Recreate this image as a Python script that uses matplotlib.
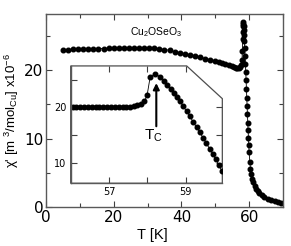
import matplotlib
matplotlib.use("Agg")
import matplotlib.pyplot as plt
from matplotlib.patches import Polygon
from matplotlib.ticker import MultipleLocator, FixedLocator, NullFormatter

plt.rcParams['font.family'] = ['Liberation Sans', 'DejaVu Sans']
plt.rcParams['mathtext.default'] = 'regular'

# main curve: chi' vs T (K), units 1e-6 m^3/mol_Cu
temp_main = [5.0, 6.5, 8.0, 9.5, 11.0, 12.5, 14.0, 15.5, 17.0, 18.5, 20.0, 21.5,
             23.0, 24.5, 26.0, 27.5, 29.0, 30.5, 32.0, 33.5, 35.0, 36.5, 38.0,
             39.5, 41.0, 42.5, 44.0, 45.5, 47.0, 48.5, 50.0, 51.0, 52.0, 53.0,
             54.0, 54.8, 55.5, 56.0, 56.5, 57.0, 57.4, 57.7, 57.9, 58.0, 58.1,
             58.15, 58.2, 58.25, 58.3, 58.35, 58.4, 58.5, 58.6, 58.7, 58.8,
             58.9, 59.0, 59.1, 59.2, 59.3, 59.4, 59.5, 59.6, 59.7, 59.8, 59.9,
             60.0, 60.2, 60.4, 60.6, 60.9, 61.2, 61.6, 62.0, 62.5, 63.0, 63.7,
             64.5, 65.5, 66.5, 67.5, 68.5, 69.5]
chi_main = [23.0, 23.0, 23.05, 23.05, 23.1, 23.1, 23.1, 23.15, 23.15, 23.2, 23.2,
            23.2, 23.2, 23.25, 23.25, 23.25, 23.25, 23.2, 23.2, 23.1, 23.0, 22.9,
            22.7, 22.5, 22.35, 22.2, 22.05, 21.9, 21.7, 21.5, 21.3, 21.15, 21.0,
            20.85, 20.7, 20.55, 20.45, 20.35, 20.3, 20.3, 20.4, 20.7, 21.5, 22.8,
            24.5, 25.6, 26.5, 27.0, 26.8, 26.4, 25.9, 25.2, 24.2, 23.2, 22.0,
            20.9, 19.8, 18.6, 17.3, 16.0, 14.8, 13.6, 12.3, 11.2, 10.1, 9.0, 8.0,
            6.6, 5.6, 4.8, 4.1, 3.6, 3.1, 2.7, 2.3, 2.0, 1.7, 1.45, 1.2, 1.0,
            0.85, 0.7, 0.6]

# inset: zoom around T_C
temp_inset = [56.05, 56.15, 56.25, 56.35, 56.45, 56.55, 56.65, 56.75, 56.85,
              56.95, 57.05, 57.15, 57.25, 57.35, 57.45, 57.55, 57.65, 57.73,
              57.82, 57.92, 57.99, 58.07, 58.2, 58.33, 58.43, 58.52, 58.6,
              58.68, 58.76, 58.85, 58.93, 59.02, 59.1, 59.19, 59.28, 59.36,
              59.45, 59.53, 59.62, 59.7, 59.78, 59.86, 59.93]
chi_inset = [20.0, 20.0, 20.0, 20.0, 20.0, 20.0, 20.0, 20.0, 20.0, 20.0, 20.0,
             20.0, 20.05, 20.05, 20.1, 20.15, 20.25, 20.4, 20.7, 21.1, 22.2,
             25.5, 26.1, 25.5, 24.8, 24.1, 23.4, 22.6, 21.8, 21.1, 20.2, 19.3,
             18.4, 17.4, 16.4, 15.5, 14.5, 13.6, 12.5, 11.6, 10.6, 9.6, 8.6]

tick_font = 'DejaVu Sans'

fig = plt.figure(figsize=(2.91, 2.46), dpi=100)
ax = fig.add_axes([0.158, 0.1585, 0.8145, 0.7845])

ax.plot(temp_main, chi_main, '-o', color='black', lw=0.6, ms=3.3)
ax.set_xlim(0, 70)
ax.set_ylim(0, 28.2)
ax.xaxis.set_major_locator(MultipleLocator(20))
ax.xaxis.set_minor_locator(MultipleLocator(10))
ax.yaxis.set_major_locator(MultipleLocator(10))
ax.yaxis.set_minor_locator(MultipleLocator(5))
ax.tick_params(which='both', direction='in', top=True, right=True,
               labelsize=11, color='0.25', width=0.8)
ax.tick_params(which='major', length=4, pad=2)
ax.tick_params(which='minor', length=3)
for lbl in ax.get_xticklabels() + ax.get_yticklabels():
    lbl.set_family(tick_font)
for sp in ax.spines.values():
    sp.set_color('0.35')
    sp.set_linewidth(1.0)

ax.set_xlabel('T [K]', fontsize=10.5)
ax.xaxis.set_label_coords(0.45, -0.11)
ax.set_ylabel("$\\chi$' [m$^{\\ 3}$/mol$_{Cu}$] x10$^{-6}$", fontsize=9.5, labelpad=2)
ax.text(32.4, 25.5, 'Cu$_2$OSeO$_3$', fontsize=7.5, ha='center', va='center')

# inset with cut corner frame
ax_in = fig.add_axes([0.243, 0.255, 0.521, 0.477])
ax_in.set_xlim(56.0, 59.95)
ax_in.set_ylim(6.3, 27.5)
ax_in.patch.set_visible(False)
ax_in.spines['top'].set_visible(False)
ax_in.spines['right'].set_visible(False)
for side in ['left', 'bottom']:
    ax_in.spines[side].set_color('0.35')
    ax_in.spines[side].set_linewidth(1.0)
frame = Polygon([(0, 0), (0, 1), (0.765, 1), (1, 0.721), (1, 0)], closed=True,
                transform=ax_in.transAxes, facecolor='white', edgecolor='0.3',
                lw=0.9, zorder=0, clip_on=False)
ax_in.add_patch(frame)

ax_in.plot(temp_inset, chi_inset, '-o', color='black', lw=0.6, ms=3.3)
ax_in.xaxis.set_major_locator(FixedLocator([57, 59]))
ax_in.xaxis.set_minor_locator(FixedLocator([58]))
ax_in.yaxis.set_major_locator(FixedLocator([10, 20]))
ax_in.yaxis.set_minor_locator(FixedLocator([15, 25]))
ax_in.tick_params(which='both', direction='in', labelsize=7, color='0.25', width=0.8)
ax_in.tick_params(which='major', length=4, pad=3)
ax_in.tick_params(which='minor', length=4)
for lbl in ax_in.get_xticklabels() + ax_in.get_yticklabels():
    lbl.set_family(tick_font)

top = ax_in.secondary_xaxis('top')
top.xaxis.set_major_locator(FixedLocator([57, 58, 59]))
top.xaxis.set_major_formatter(NullFormatter())
top.tick_params(direction='in', length=4, color='0.25', width=0.8)
top.spines['top'].set_visible(False)
right = ax_in.secondary_yaxis('right')
right.yaxis.set_major_locator(FixedLocator([10, 15, 20]))
right.yaxis.set_major_formatter(NullFormatter())
right.tick_params(direction='in', length=4, color='0.25', width=0.8)
right.spines['right'].set_visible(False)

ax_in.annotate('', xy=(58.23, 24.4), xytext=(58.23, 16.6),
               arrowprops=dict(arrowstyle='-|>', color='black', lw=1.5,
                               mutation_scale=9, shrinkA=0, shrinkB=0))
ax_in.text(58.14, 16.3, 'T$_C$', fontsize=11, ha='center', va='top')

fig.savefig('out.png', dpi=100)
